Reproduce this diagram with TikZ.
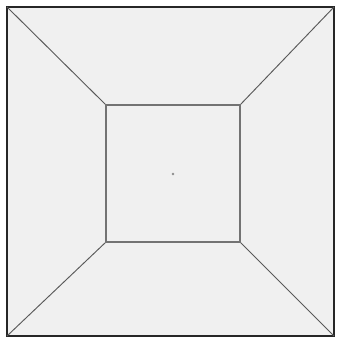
\documentclass[tikz,border=0pt]{standalone}
\usetikzlibrary{positioning, calc}

\begin{document}
\begin{tikzpicture}[x=0.03cm, y=-0.03cm, outer/.style={draw=black!85, line width=1.2pt, fill=black!6}, inner/.style={draw=black!55, line width=1pt}, spoke/.style={draw=black!65, line width=0.8pt}]
      \useasboundingbox (0,0) rectangle (337,343);
      \fill[white] (0,0) rectangle (337,343);
      % outer and inner corners
      \coordinate (o1) at (7,7);
      \coordinate (o2) at (334,7);
      \coordinate (o3) at (334,336);
      \coordinate (o4) at (7,336);
      \coordinate (i1) at (106,105);
      \coordinate (i2) at (240,105);
      \coordinate (i3) at (240,242);
      \coordinate (i4) at (106,242);
      \path[outer] (o1) -- (o2) -- (o3) -- (o4) -- cycle;
      \foreach \k in {1,...,4}
        \draw[spoke] (o\k) -- (i\k);
      \path[inner] (i1) -- (i2) -- (i3) -- (i4) -- cycle;
      \node[circle, fill=black!45, inner sep=0pt, minimum size=2.5pt] (c) at (173,174) {};
    \end{tikzpicture}
\end{document}
